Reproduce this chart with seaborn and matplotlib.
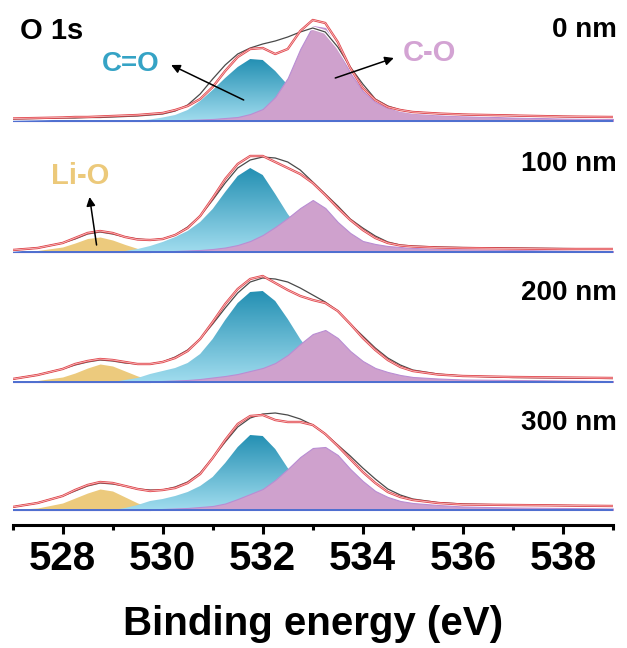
import numpy as np
import matplotlib
matplotlib.use('Agg')
import matplotlib.pyplot as plt
import matplotlib.patheffects as pe
from matplotlib.colors import LinearSegmentedColormap
from matplotlib.ticker import MultipleLocator
import seaborn as sns

# binding energy grid (eV)
energy = [527, 527.5, 528, 528.25, 528.5, 528.75, 529, 529.25, 529.5, 529.75,
          530, 530.25, 530.5, 530.75, 531, 531.25, 531.5, 531.75, 532, 532.25,
          532.5, 532.75, 533, 533.25, 533.5, 533.75, 534, 534.25, 534.5, 534.75,
          535, 535.5, 536, 537, 538, 539]

# 0 nm
raw_0 = [2, 2.5, 3, 3, 3.5, 3.5, 4, 4.5, 5, 6, 7, 10, 16, 27, 42, 56, 67, 73, 77, 80,
         84, 89, 93, 89, 74, 54, 37, 22, 15, 11, 9, 7.5, 6.5, 5.5, 4.5, 4]
fit_0 = [2.5, 3, 3.5, 4, 4, 4.5, 5, 5.5, 6, 7, 8, 11, 15, 22, 34, 50, 64, 72, 73, 67,
         72, 90, 101, 98, 79, 53, 33, 21, 14, 11, 9, 7.5, 6.5, 5.5, 4.5, 4]
cdo_0 = [0, 0, 0, 0, 0, 0, 0, 0, 0.5, 1.5, 3.5, 6, 11, 20, 31, 43, 54, 62, 61, 50,
         36, 16, 8, 5, 3, 2, 1, 0.5, 0, 0, 0, 0, 0, 0, 0, 0]
co_0 = [0, 0, 0, 0, 0, 0, 0, 0, 0, 0, 0.5, 0.5, 1, 1.5, 2, 3, 4, 7, 12, 24,
        43, 72, 95, 93, 72, 48, 30, 19, 13, 10, 8, 6, 5, 3.5, 2.5, 2]

# 100 nm
raw_100 = [2, 4, 9, 13, 18, 20, 18, 15, 13, 12, 13, 17, 25, 36, 52, 69, 84, 92, 95, 94,
           90, 82, 70, 58, 46, 33, 24, 16, 10, 7, 6, 5, 4.5, 4, 3.5, 3]
fit_100 = [2, 4, 9, 14, 19, 21, 19, 15, 12.5, 12, 13, 17, 24, 36, 54, 73, 88, 96, 96, 90,
           84, 78, 69, 57, 44, 32, 22, 14, 9, 6.5, 5.5, 4.5, 4, 3.5, 3, 3]
lio_100 = [0.5, 1.5, 5, 9, 13.5, 15, 12, 7.5, 3.5, 1.5, 0.5, 0, 0, 0, 0, 0, 0, 0, 0, 0,
           0, 0, 0, 0, 0, 0, 0, 0, 0, 0, 0, 0, 0, 0, 0, 0]
cdo_100 = [0, 0, 0, 0, 0, 0, 0, 1, 3, 6, 10, 15, 21, 30, 43, 60, 76, 84, 77, 58,
           38, 22, 12, 6, 3, 1.5, 1, 0.5, 0, 0, 0, 0, 0, 0, 0, 0]
co_100 = [0, 0, 0, 0, 0, 0, 0, 0, 0, 0, 0.5, 1, 1.5, 2, 3, 4.5, 7, 11, 17, 25,
          34, 44, 52, 44, 30, 19, 11, 8, 6, 5, 4, 3.5, 3, 2, 1.5, 1]

# 200 nm
raw_200 = [3, 7, 13, 17, 20, 22, 21, 19, 18, 18, 20, 25, 32, 43, 58, 74, 89, 100, 104, 103,
           100, 94, 87, 80, 71, 58, 46, 34, 24, 17, 12, 8, 6, 4.5, 4, 3.5]
fit_200 = [3, 7, 13, 18, 21, 23, 22, 20, 18, 18, 20, 24, 31, 43, 60, 78, 93, 103, 106, 99,
           92, 86, 82, 79, 71, 58, 44, 32, 22, 15, 11, 7.5, 6, 5, 4.5, 4]
lio_200 = [0.5, 1.5, 5, 9, 14, 18, 16, 11, 6, 2.5, 1, 0.3, 0, 0, 0, 0, 0, 0, 0, 0,
           0, 0, 0, 0, 0, 0, 0, 0, 0, 0, 0, 0, 0, 0, 0, 0]
cdo_200 = [0, 0, 0, 0, 0, 0, 0, 2, 4, 8, 11, 14, 19, 28, 43, 62, 79, 90, 91, 81,
           63, 43, 26, 14, 7, 4, 2, 1, 0.5, 0, 0, 0, 0, 0, 0, 0]
co_200 = [0, 0, 0, 0, 0, 0, 0, 0, 0, 0, 1, 1.5, 2, 3, 4.5, 6, 8, 11, 14, 19,
          27, 38, 48, 52, 44, 31, 21, 14, 10, 7, 5, 3.5, 2.5, 2, 1.5, 1]

# 300 nm
raw_300 = [3, 7, 14, 19, 24, 27, 26, 24, 21, 20, 20, 23, 28, 37, 52, 68, 83, 92, 96, 97,
           95, 91, 85, 76, 65, 54, 42, 31, 21, 15, 11, 7.5, 6, 5, 4.5, 4]
fit_300 = [3, 7, 14, 20, 25, 28, 27, 24, 21, 19, 20, 22, 27, 36, 52, 70, 86, 94, 95, 90,
           88, 88, 85, 76, 64, 51, 38, 27, 18, 13, 10, 7, 5.5, 5, 4.5, 4]
lio_300 = [0.5, 2, 7, 12, 17, 21, 19, 13, 7, 3, 1, 0.3, 0, 0, 0, 0, 0, 0, 0, 0,
           0, 0, 0, 0, 0, 0, 0, 0, 0, 0, 0, 0, 0, 0, 0, 0]
cdo_300 = [0, 0, 0, 0, 0, 0, 0, 2, 5, 9, 11, 14, 18, 24, 33, 47, 63, 75, 74, 61,
           42, 27, 16, 9, 5, 3, 1.5, 1, 0.5, 0, 0, 0, 0, 0, 0, 0]
co_300 = [0, 0, 0, 0, 0, 0, 0, 0, 0, 0, 1, 1.5, 2, 3, 4, 6.5, 11, 16, 21, 30,
          41, 53, 62, 63, 55, 41, 29, 19, 13, 9, 7, 5, 3.5, 2.5, 2, 1.5]

depths = ['0 nm', '100 nm', '200 nm', '300 nm']

sns.set_theme(style='ticks')
plt.rcParams['font.family'] = ['Liberation Sans', 'DejaVu Sans']
plt.rcParams['font.weight'] = 'bold'
plt.rcParams['text.color'] = 'black'
plt.rcParams['axes.labelcolor'] = 'black'

fig = plt.figure(figsize=(6.27, 6.48), dpi=100)
ax = fig.add_axes([12.5 / 627, 123 / 648, 600.5 / 627, 525 / 648])

teal_cmap = LinearSegmentedColormap.from_list('teal', ['#a0dcee', '#2490b3'])
grad = np.linspace(0, 1, 256).reshape(-1, 1)
x = np.array(energy)

panels = [
    (raw_0, fit_0, None, cdo_0, co_0),
    (raw_100, fit_100, lio_100, cdo_100, co_100),
    (raw_200, fit_200, lio_200, cdo_200, co_200),
    (raw_300, fit_300, lio_300, cdo_300, co_300),
]
offsets = [389, 258, 128, 0]
label_y = [480, 346, 217, 87]

for (raw, fit, lio, cdo, co), off, name, ly in zip(panels, offsets, depths, label_y):
    raw, fit, cdo, co = map(np.array, (raw, fit, cdo, co))
    if lio is not None:
        ax.fill_between(x, off, off + np.array(lio), color='#ecca7d', lw=0, zorder=2)
    # C=O peak with vertical gradient
    poly = ax.fill_between(x, off, off + cdo, color='none', lw=0, zorder=2)
    img = ax.imshow(grad, extent=[527, 539, off, off + cdo.max()], origin='lower',
                    aspect='auto', cmap=teal_cmap, zorder=2)
    img.set_clip_path(poly.get_paths()[0], ax.transData)
    # C-O peak
    ax.fill_between(x, off, off + co, facecolor='#cfa1cd', edgecolor='#b98dd3',
                    lw=0.8, zorder=3)
    ax.plot(x, np.full_like(x, off), color='#4d6fd0', lw=1.4, zorder=4)
    sns.lineplot(x=x, y=off + raw, ax=ax, color='#4a4a4a', lw=0.9, zorder=5,
                 path_effects=[pe.Stroke(linewidth=2.6, foreground='white'), pe.Normal()])
    sns.lineplot(x=x, y=off + fit, ax=ax, color='#f7cfd0', lw=0.5, zorder=6,
                 path_effects=[pe.Stroke(linewidth=1.7, foreground='#e2474d'), pe.Normal()])
    ax.text(539.07, ly, name, fontsize=20, ha='right', va='center', color='black')

ax.text(527.15, 479, 'O 1s', fontsize=21, ha='left', va='center', color='black')
ax.text(529.36, 446, 'C=O', fontsize=20, ha='center', va='center', color='#35a3c5')
ax.text(535.34, 457, 'C-O', fontsize=21, ha='center', va='center', color='#d3a3d3')
ax.text(528.36, 334, 'Li-O', fontsize=21, ha='center', va='center', color='#ecc97a')

arrow = dict(arrowstyle='-|>', color='black', lw=1.1, mutation_scale=13, shrinkA=0, shrinkB=0)
ax.annotate('', xy=(530.17, 445), xytext=(531.62, 410), arrowprops=arrow, zorder=8)
ax.annotate('', xy=(534.62, 452), xytext=(533.45, 432), arrowprops=arrow, zorder=8)
ax.annotate('', xy=(528.54, 313), xytext=(528.68, 265), arrowprops=arrow, zorder=8)

ax.set_xlim(527, 539)
ax.set_ylim(-15, 510)
ax.xaxis.set_major_locator(MultipleLocator(2))
ax.xaxis.set_minor_locator(MultipleLocator(1))
ax.set_yticks([])
for s in ['left', 'right', 'top']:
    ax.spines[s].set_visible(False)
ax.spines['bottom'].set_linewidth(2.2)
ax.spines['bottom'].set_color('black')
ax.tick_params(axis='x', which='major', direction='out', length=6.5, width=2.2,
               labelsize=29, pad=4, colors='black', bottom=True)
ax.tick_params(axis='x', which='minor', direction='out', length=3.5, width=2.2,
               colors='black', bottom=True)
ax.set_xlabel('Binding energy (eV)', fontsize=29, fontweight='bold', color='black',
              labelpad=20)

fig.savefig('out.png', dpi=100)
